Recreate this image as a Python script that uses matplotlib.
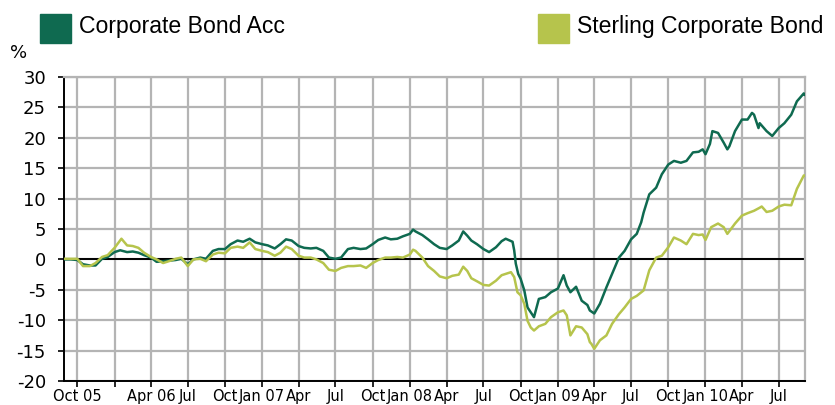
import matplotlib
matplotlib.use("Agg")
import matplotlib.pyplot as plt
from matplotlib.patches import Rectangle
import numpy as np

# Corporate Bond Acc (cumulative %)
acc_dates = [
    "2005-09-01", "2005-09-15", "2005-10-01", "2005-10-15", "2005-11-01", "2005-11-15",
    "2005-12-01", "2005-12-15", "2006-01-01", "2006-01-15", "2006-02-01", "2006-02-15",
    "2006-03-01", "2006-03-15", "2006-04-01", "2006-04-15", "2006-05-01", "2006-05-15",
    "2006-06-01", "2006-06-15", "2006-07-01", "2006-07-15", "2006-08-01", "2006-08-15",
    "2006-09-01", "2006-09-15", "2006-10-01", "2006-10-15", "2006-11-01", "2006-11-15",
    "2006-12-01", "2006-12-15", "2007-01-01", "2007-01-15", "2007-02-01", "2007-02-15",
    "2007-03-01", "2007-03-15", "2007-04-01", "2007-04-15", "2007-05-01", "2007-05-15",
    "2007-06-01", "2007-06-15", "2007-07-01", "2007-07-15", "2007-08-01", "2007-08-15",
    "2007-09-01", "2007-09-15", "2007-10-01", "2007-10-15", "2007-11-01", "2007-11-15",
    "2007-12-01", "2007-12-15", "2008-01-01", "2008-01-09", "2008-01-15", "2008-02-01",
    "2008-02-15", "2008-03-01", "2008-03-15", "2008-04-01", "2008-04-15", "2008-05-01",
    "2008-05-12", "2008-05-22", "2008-06-01", "2008-06-15", "2008-07-01", "2008-07-15",
    "2008-08-01", "2008-08-15", "2008-08-25", "2008-09-01", "2008-09-11", "2008-09-15",
    "2008-09-19", "2008-09-25", "2008-10-01", "2008-10-10", "2008-10-18", "2008-10-26",
    "2008-11-03", "2008-11-15", "2008-12-01", "2008-12-15", "2009-01-01", "2009-01-15",
    "2009-01-23", "2009-02-01", "2009-02-15", "2009-03-01", "2009-03-15", "2009-03-21",
    "2009-04-01", "2009-04-15", "2009-05-01", "2009-05-15", "2009-06-01", "2009-06-15",
    "2009-07-01", "2009-07-15", "2009-07-26", "2009-08-01", "2009-08-15", "2009-09-01",
    "2009-09-15", "2009-10-01", "2009-10-15", "2009-11-01", "2009-11-15", "2009-12-01",
    "2009-12-15", "2009-12-25", "2010-01-01", "2010-01-12", "2010-01-18", "2010-02-01",
    "2010-02-15", "2010-02-24", "2010-03-01", "2010-03-15", "2010-04-01", "2010-04-15",
    "2010-04-26", "2010-05-01", "2010-05-12", "2010-05-15", "2010-06-01", "2010-06-15",
    "2010-07-01", "2010-07-15", "2010-08-01", "2010-08-15", "2010-09-01", "2010-09-03",
]
acc_vals = [
    0.0, 0.0, -0.1, -0.8, -1.0, -1.0,
    0.1, 0.4, 1.2, 1.5, 1.2, 1.3,
    1.1, 0.7, 0.3, -0.4, -0.3, -0.2,
    -0.1, 0.1, -0.8, 0.0, 0.3, 0.1,
    1.4, 1.7, 1.7, 2.5, 3.1, 2.9,
    3.4, 2.8, 2.5, 2.3, 1.8, 2.5,
    3.3, 3.1, 2.2, 1.9, 1.8, 1.9,
    1.4, 0.3, 0.1, 0.3, 1.7, 1.9,
    1.7, 1.8, 2.5, 3.2, 3.6, 3.3,
    3.4, 3.8, 4.2, 4.9, 4.6, 4.0,
    3.3, 2.5, 1.9, 1.7, 2.3, 3.1,
    4.6, 3.9, 3.1, 2.5, 1.7, 1.2,
    2.0, 3.0, 3.4, 3.2, 2.9, 1.5,
    -0.7, -2.4, -3.2, -5.1, -7.9, -8.7,
    -9.5, -6.5, -6.2, -5.4, -4.8, -2.6,
    -4.3, -5.4, -4.5, -6.8, -7.5, -8.4,
    -8.9, -7.3, -4.6, -2.4, 0.3, 1.4,
    3.3, 4.2, 6.1, 7.7, 10.7, 11.8,
    14.0, 15.6, 16.2, 15.9, 16.2, 17.6,
    17.7, 18.1, 17.3, 19.0, 21.1, 20.8,
    19.2, 18.1, 18.6, 21.1, 23.0, 23.0,
    24.1, 23.8, 21.6, 22.4, 21.1, 20.3,
    21.6, 22.4, 23.8, 26.0, 27.3, 27.1,
]

# Sterling Corporate Bond (cumulative %)
sector_dates = [
    "2005-09-01", "2005-09-15", "2005-10-01", "2005-10-15", "2005-11-01", "2005-11-15",
    "2005-12-01", "2005-12-15", "2006-01-01", "2006-01-18", "2006-02-01", "2006-02-15",
    "2006-03-01", "2006-03-15", "2006-04-01", "2006-04-15", "2006-05-01", "2006-05-15",
    "2006-06-01", "2006-06-15", "2006-07-01", "2006-07-15", "2006-08-01", "2006-08-15",
    "2006-09-01", "2006-09-15", "2006-10-01", "2006-10-15", "2006-11-01", "2006-11-15",
    "2006-12-01", "2006-12-15", "2007-01-01", "2007-01-15", "2007-02-01", "2007-02-15",
    "2007-03-01", "2007-03-15", "2007-04-01", "2007-04-15", "2007-05-01", "2007-05-15",
    "2007-06-01", "2007-06-15", "2007-07-01", "2007-07-15", "2007-08-01", "2007-08-15",
    "2007-09-01", "2007-09-15", "2007-10-01", "2007-10-15", "2007-11-01", "2007-11-15",
    "2007-12-01", "2007-12-15", "2008-01-01", "2008-01-09", "2008-01-15", "2008-02-01",
    "2008-02-15", "2008-03-01", "2008-03-15", "2008-04-01", "2008-04-15", "2008-05-01",
    "2008-05-12", "2008-05-22", "2008-06-01", "2008-06-15", "2008-07-01", "2008-07-15",
    "2008-08-01", "2008-08-15", "2008-08-29", "2008-09-07", "2008-09-15", "2008-09-23",
    "2008-10-01", "2008-10-10", "2008-10-18", "2008-10-26", "2008-11-03", "2008-11-15",
    "2008-12-01", "2008-12-15", "2009-01-01", "2009-01-15", "2009-01-23", "2009-02-01",
    "2009-02-15", "2009-03-01", "2009-03-15", "2009-03-21", "2009-03-25", "2009-04-01",
    "2009-04-15", "2009-05-01", "2009-05-15", "2009-06-01", "2009-06-15", "2009-07-01",
    "2009-07-15", "2009-08-01", "2009-08-15", "2009-09-01", "2009-09-15", "2009-10-01",
    "2009-10-15", "2009-11-01", "2009-11-15", "2009-12-01", "2009-12-15", "2009-12-25",
    "2010-01-01", "2010-01-15", "2010-02-01", "2010-02-15", "2010-02-24", "2010-03-15",
    "2010-04-01", "2010-04-15", "2010-05-01", "2010-05-15", "2010-05-20", "2010-06-01",
    "2010-06-15", "2010-07-01", "2010-07-15", "2010-08-01", "2010-08-15", "2010-09-01",
    "2010-09-03",
]
sector_vals = [
    0.1, 0.1, 0.1, -1.1, -1.1, -0.6,
    0.4, 0.7, 1.9, 3.4, 2.3, 2.2,
    1.9, 1.1, 0.4, 0.0, -0.6, -0.3,
    0.1, 0.3, -1.1, 0.0, 0.1, -0.3,
    0.8, 1.1, 1.0, 1.9, 2.1, 1.9,
    2.8, 1.7, 1.4, 1.2, 0.6, 1.1,
    2.1, 1.7, 0.6, 0.3, 0.3, 0.0,
    -0.6, -1.7, -1.9, -1.4, -1.1, -1.1,
    -1.0, -1.4, -0.6, -0.1, 0.3, 0.3,
    0.4, 0.3, 0.8, 1.6, 1.4, 0.3,
    -1.1, -1.9, -2.8, -3.1, -2.7, -2.5,
    -1.2, -1.9, -3.1, -3.6, -4.2, -4.3,
    -3.5, -2.6, -2.3, -2.1, -2.9, -5.4,
    -5.9, -7.3, -10.1, -11.2, -11.7, -11.0,
    -10.6, -9.5, -8.7, -8.4, -9.2, -12.5,
    -11.0, -11.2, -12.3, -13.6, -13.9, -14.7,
    -13.3, -12.5, -10.6, -9.0, -7.9, -6.5,
    -6.0, -5.1, -1.8, 0.3, 0.6, 2.0,
    3.6, 3.1, 2.5, 4.2, 4.0, 4.1,
    3.2, 5.3, 5.9, 5.3, 4.2, 5.9,
    7.2, 7.6, 8.0, 8.5, 8.7, 7.8,
    8.0, 8.7, 9.0, 8.9, 11.6, 13.8,
    13.8,
]

tick_dates = [
    "2005-10-01", "2006-01-01", "2006-04-01", "2006-07-01", "2006-10-01",
    "2007-01-01", "2007-04-01", "2007-07-01", "2007-10-01", "2008-01-01",
    "2008-04-01", "2008-07-01", "2008-10-01", "2009-01-01", "2009-04-01",
    "2009-07-01", "2009-10-01", "2010-01-01", "2010-04-01", "2010-07-01",
]
tick_labels = [
    "Oct 05", "", "Apr 06", "Jul", "Oct", "Jan 07", "Apr", "Jul", "Oct", "Jan 08",
    "Apr", "Jul", "Oct", "Jan 09", "Apr", "Jul", "Oct", "Jan 10", "Apr", "Jul",
]
y_ticks = [-20, -15, -10, -5, 0, 5, 10, 15, 20, 25, 30]

dark = "#0f6a50"
light = "#b6c44c"
grid_col = "#b4b4b4"

W, H = 835, 405
fig = plt.figure(figsize=(W / 100, H / 100), dpi=100)
ax = fig.add_axes([64 / W, 1 - 381 / H, (805 - 64) / W, (381 - 77) / H])

to_dt = lambda lst: np.array(lst, dtype="datetime64[D]")

ax.plot(to_dt(acc_dates), acc_vals, color=dark, lw=1.8, zorder=3)
ax.plot(to_dt(sector_dates), sector_vals, color=light, lw=1.8, zorder=4)
ax.axhline(0, color="black", lw=1.4, zorder=2)

ax.set_xlim(np.datetime64("2005-08-29"), np.datetime64("2010-09-04"))
ax.set_ylim(-20, 30)
ax.set_yticks(y_ticks)
ax.set_yticklabels([str(v) for v in y_ticks], fontsize=13)
ax.set_xticks(to_dt(tick_dates))
ax.set_xticklabels(tick_labels, fontsize=10.5)

ax.grid(True, color=grid_col, lw=1.6, zorder=0)
ax.set_axisbelow(True)
for s in ["top", "right"]:
    ax.spines[s].set_color(grid_col)
    ax.spines[s].set_linewidth(1.6)
for s in ["left", "bottom"]:
    ax.spines[s].set_color("black")
    ax.spines[s].set_linewidth(1.4)
ax.tick_params(axis="y", length=4, width=1.2, pad=9, colors="black")
ax.tick_params(axis="x", length=4, width=1.2, pad=2, colors="black")

fig.text(10 / W, 1 - 53 / H, "%", fontsize=13, va="center", ha="left")

# legend
legend_items = [("Corporate Bond Acc", dark, 40), ("Sterling Corporate Bond", light, 538)]
for name, col, x0 in legend_items:
    fig.add_artist(Rectangle((x0 / W, 1 - 43 / H), 31 / W, 29 / H,
                             transform=fig.transFigure, color=col))
    fig.text((x0 + 39) / W, 1 - 27 / H, name, fontsize=16.6, va="center", ha="left",
             family="Liberation Sans")

fig.savefig("out.png", dpi=100)
